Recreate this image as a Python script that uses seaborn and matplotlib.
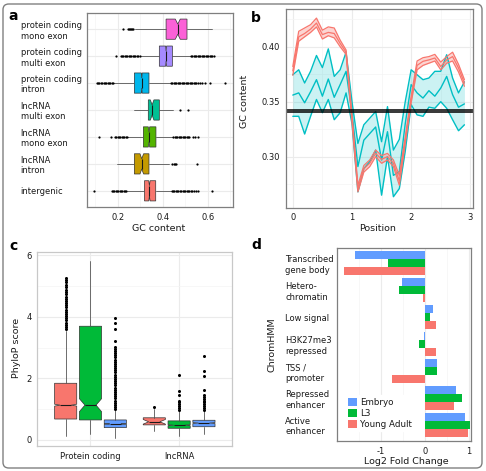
import numpy as np
import pandas as pd
import matplotlib
matplotlib.use("Agg")
import matplotlib.pyplot as plt
import seaborn as sns
from matplotlib.patches import FancyBboxPatch, Patch
from matplotlib.ticker import MultipleLocator, FixedLocator

# ---------------- panel a: GC content per region type ----------------
gc_labels = ["protein coding\nmono exon", "protein coding\nmulti exon", "protein coding\nintron",
             "lncRNA\nmulti exon", "lncRNA\nmono exon", "lncRNA\nintron", "intergenic"]
gc_colors = ["#FB61D7", "#A58AFF", "#00B6EB", "#00C094", "#53B400", "#C49A00", "#F8766D"]
gc_q1 = [0.415, 0.385, 0.274, 0.336, 0.314, 0.274, 0.319]
gc_med = [0.467, 0.415, 0.307, 0.353, 0.339, 0.307, 0.341]
gc_q3 = [0.508, 0.443, 0.339, 0.385, 0.370, 0.339, 0.369]
gc_lo = [0.277, 0.304, 0.180, 0.274, 0.240, 0.196, 0.243]
gc_hi = [0.618, 0.525, 0.436, 0.445, 0.447, 0.430, 0.440]
gc_notch = [0.011, 0.002, 0.002, 0.008, 0.003, 0.008, 0.003]
gc_fliers = [
    [0.222, 0.247, 0.251, 0.255, 0.259, 0.263, 0.267],
    [0.192, 0.213, 0.219, 0.225, 0.231, 0.237, 0.243, 0.249, 0.255, 0.261, 0.267, 0.273,
     0.279, 0.285, 0.291, 0.297, 0.525, 0.531, 0.537, 0.543, 0.549, 0.555, 0.561, 0.567,
     0.573, 0.579, 0.585, 0.591, 0.597, 0.603, 0.609, 0.615, 0.621, 0.628],
    [0.107, 0.113, 0.119, 0.125, 0.131, 0.137, 0.143, 0.149, 0.155, 0.161, 0.167, 0.173,
     0.178, 0.436, 0.442, 0.448, 0.454, 0.460, 0.466, 0.472, 0.478, 0.484, 0.490, 0.496,
     0.502, 0.508, 0.514, 0.520, 0.526, 0.532, 0.538, 0.544, 0.550, 0.556, 0.565, 0.575,
     0.590, 0.610, 0.675],
    [0.478, 0.512],
    [0.117, 0.170, 0.188, 0.194, 0.200, 0.206, 0.212, 0.218, 0.224, 0.230, 0.236, 0.240,
     0.447, 0.453, 0.459, 0.465, 0.471, 0.477, 0.483, 0.489, 0.495, 0.501, 0.507, 0.513,
     0.519, 0.535, 0.545, 0.558],
    [0.443, 0.449, 0.455, 0.461, 0.551],
    [0.096, 0.173, 0.179, 0.185, 0.191, 0.197, 0.203, 0.209, 0.215, 0.221, 0.227, 0.233,
     0.239, 0.440, 0.446, 0.452, 0.458, 0.464, 0.470, 0.476, 0.482, 0.488, 0.494, 0.500,
     0.506, 0.512, 0.518, 0.524, 0.530, 0.540, 0.550, 0.559, 0.620],
]

# ---------------- panel b: GC content along position ----------------
positions = [0.0, 0.1, 0.2, 0.3, 0.4, 0.5, 0.6, 0.7, 0.8, 0.9,
             1.0, 1.1, 1.2, 1.3, 1.4, 1.5, 1.6, 1.7, 1.8, 1.9,
             2.0, 2.1, 2.2, 2.3, 2.4, 2.5, 2.6, 2.7, 2.8, 2.9]
red_mid = [0.378, 0.409, 0.412, 0.416, 0.4215, 0.411, 0.413, 0.412, 0.403, 0.395,
           0.335, 0.271, 0.289, 0.294, 0.303, 0.2976, 0.300, 0.294, 0.278, 0.315,
           0.352, 0.383, 0.3867, 0.388, 0.3897, 0.382, 0.388, 0.391, 0.3806, 0.367]
red_up = [0.382, 0.414, 0.417, 0.420, 0.426, 0.415, 0.418, 0.417, 0.406, 0.397,
          0.338, 0.274, 0.292, 0.297, 0.306, 0.301, 0.303, 0.297, 0.283, 0.318,
          0.355, 0.387, 0.390, 0.391, 0.393, 0.386, 0.391, 0.395, 0.384, 0.370]
red_low = [0.374, 0.405, 0.409, 0.413, 0.418, 0.407, 0.410, 0.408, 0.400, 0.393,
           0.332, 0.268, 0.286, 0.291, 0.300, 0.294, 0.297, 0.291, 0.274, 0.312,
           0.349, 0.379, 0.383, 0.385, 0.387, 0.379, 0.385, 0.387, 0.377, 0.364]
teal_up = [0.3745, 0.379, 0.367, 0.3776, 0.392, 0.381, 0.398, 0.373, 0.379, 0.395,
           0.350, 0.312, 0.329, 0.335, 0.341, 0.3136, 0.3455, 0.306, 0.3158, 0.350,
           0.379, 0.3745, 0.370, 0.3715, 0.3776, 0.3776, 0.3927, 0.3715, 0.358, 0.368]
teal_mid = [0.356, 0.358, 0.349, 0.359, 0.370, 0.355, 0.3706, 0.354, 0.3655, 0.3776,
            0.340, 0.291, 0.315, 0.321, 0.327, 0.297, 0.3227, 0.283, 0.2864, 0.330,
            0.3655, 0.358, 0.3533, 0.360, 0.355, 0.3624, 0.373, 0.3564, 0.345, 0.348]
teal_low = [0.3367, 0.3367, 0.3206, 0.3367, 0.352, 0.340, 0.352, 0.3336, 0.340, 0.358,
            0.330, 0.268, 0.289, 0.2955, 0.306, 0.265, 0.300, 0.2636, 0.271, 0.305,
            0.3473, 0.338, 0.3367, 0.345, 0.344, 0.350, 0.344, 0.3336, 0.3236, 0.329]
gc_ref_lines = [0.3422, 0.3404]

# ---------------- panel c: PhyloP scores ----------------
phylo_groups = ["Protein coding", "lncRNA"]
phylo_colors = ["#F8766D", "#00BA38", "#619CFF"]
# order: PC red, PC green, PC blue, lncRNA red, lncRNA green, lncRNA blue
ph_q1 = [0.68, 0.65, 0.40, 0.49, 0.38, 0.43]
ph_med = [1.13, 1.13, 0.52, 0.59, 0.48, 0.55]
ph_q3 = [1.84, 3.69, 0.65, 0.72, 0.62, 0.64]
ph_lo = [0.13, 0.18, 0.08, 0.30, 0.14, 0.18]
ph_hi = [3.55, 5.79, 0.97, 1.00, 0.94, 0.95]
ph_notch = [0.03, 0.21, 0.01, 0.075, 0.015, 0.015]
ph_fliers = [
    [3.60, 3.67, 3.74, 3.81, 3.88, 3.95, 4.02, 4.09, 4.16, 4.23, 4.30, 4.37, 4.44, 4.51,
     4.58, 4.65, 4.72, 4.79, 4.86, 4.97, 5.04, 5.11, 5.18, 5.25],
    [],
    [1.00, 1.07, 1.14, 1.21, 1.28, 1.35, 1.42, 1.49, 1.56, 1.63, 1.70, 1.77, 1.84, 1.91,
     1.98, 2.05, 2.12, 2.19, 2.26, 2.33, 2.40, 2.47, 2.54, 2.61, 2.68, 2.75, 2.82, 2.89,
     2.96, 3.03, 3.20, 3.60, 3.78, 3.97],
    [1.08],
    [0.98, 1.04, 1.10, 1.16, 1.22, 1.28, 1.45, 1.58, 2.12],
    [0.98, 1.04, 1.10, 1.16, 1.22, 1.28, 1.34, 1.40, 1.46, 1.63, 2.07, 2.25, 2.72],
]

# ---------------- panel d: ChromHMM enrichment ----------------
states = ["Transcribed\ngene body", "Hetero-\nchromatin", "Low signal", "H3K27me3\nrepressed",
          "TSS /\npromoter", "Repressed\nenhancer", "Active\nenhancer"]
stages = ["Embryo", "L3", "Young Adult"]
stage_colors = ["#619CFF", "#00BA38", "#F8766D"]
embryo = [-1.60, -0.53, 0.18, -0.015, 0.275, 0.72, 0.92]
l3 = [-0.85, -0.60, 0.12, -0.14, 0.275, 0.85, 1.04]
young = [-1.84, -0.04, 0.245, 0.26, -0.75, 0.67, 0.98]

# ---------------- style ----------------
sns.set_style("white")
plt.rcParams["font.family"] = ["DejaVu Sans"]
plt.rcParams["axes.unicode_minus"] = False
TICK = 6
TITLE = 6.8
TXT = "#1a1a1a"
W, H = 486, 471

fig = plt.figure(figsize=(W / 100, H / 100), dpi=100)


def add_ax(left, top, right, bottom):
    return fig.add_axes([left / W, 1 - bottom / H, (right - left) / W, (bottom - top) / H])


def style(ax, edge="#7f7f7f"):
    ax.set_facecolor("white")
    for s in ax.spines.values():
        s.set_visible(True)
        s.set_color(edge)
        s.set_linewidth(0.9)
    ax.grid(which="major", color="#EBEBEB", lw=0.8)
    ax.grid(which="minor", color="#F4F4F4", lw=0.5)
    ax.set_axisbelow(True)
    ax.tick_params(which="major", length=2.5, width=0.6, color="#333333",
                   labelsize=TICK, labelcolor=TXT, pad=1.5)
    ax.tick_params(which="minor", length=0)


def make_stats(q1, med, q3, lo, hi, notch, fliers):
    out = []
    for i in range(len(med)):
        out.append(dict(q1=q1[i], med=med[i], q3=q3[i], whislo=lo[i], whishi=hi[i],
                        cilo=med[i] - notch[i], cihi=med[i] + notch[i], fliers=fliers[i]))
    return out


box_kw = dict(patch_artist=True, shownotches=True, showcaps=False, manage_ticks=False,
              boxprops=dict(lw=0.5, edgecolor="#333333"),
              medianprops=dict(color="#1a1a1a", lw=0.8),
              whiskerprops=dict(color="#555555", lw=0.6))

# ---- a ----
ax = add_ax(87, 13, 233, 207)
style(ax)
ypos = np.arange(len(gc_labels), 0, -1)
bp = ax.bxp(make_stats(gc_q1, gc_med, gc_q3, gc_lo, gc_hi, gc_notch, gc_fliers),
            positions=ypos, widths=0.75, orientation="horizontal",
            flierprops=dict(marker="o", ms=1.6, mfc="black", mec="none"), **box_kw)
for patch, c in zip(bp["boxes"], gc_colors):
    patch.set_facecolor(c)
ax.set_yticks(ypos)
ax.set_yticklabels(gc_labels)
for lab in ax.get_yticklabels():
    lab.set_ha("left")
ax.tick_params(axis="y", pad=45.2)
ax.set_ylim(0.4, len(gc_labels) + 0.6)
ax.set_xlim(0.0636, 0.7124)
ax.xaxis.set_major_locator(FixedLocator([0.2, 0.4, 0.6]))
ax.xaxis.set_minor_locator(FixedLocator([0.1, 0.3, 0.5, 0.7]))
ax.set_xticklabels(["0.2", "0.4", "0.6"])
ax.set_xlabel("GC content", fontsize=TITLE, color=TXT)
ax.xaxis.label.set_va("center")
ax.xaxis.set_label_coords(0.493, -0.113)

# ---- b ----
ax = add_ax(285.7, 9.3, 473.3, 207.7)
style(ax)
teal, red = "#00BFC4", "#F8766D"
ax.fill_between(positions, teal_low, teal_up, color=teal, alpha=0.2, lw=0)
for ys in (teal_up, teal_mid, teal_low):
    sns.lineplot(x=positions, y=ys, color=teal, lw=1.0, ax=ax)
ax.fill_between(positions, red_low, red_up, color=red, alpha=0.3, lw=0)
for ys in (red_up, red_mid, red_low):
    sns.lineplot(x=positions, y=ys, color=red, lw=0.9, ax=ax)
for yv in gc_ref_lines:
    ax.axhline(yv, color="black", lw=1.1)
ax.set_xlim(-0.12, 3.05)
ax.set_ylim(0.2536, 0.434)
ax.xaxis.set_major_locator(MultipleLocator(1))
ax.xaxis.set_minor_locator(MultipleLocator(0.5))
ax.yaxis.set_major_locator(FixedLocator([0.30, 0.35, 0.40]))
ax.yaxis.set_minor_locator(FixedLocator([0.275, 0.325, 0.375, 0.425]))
ax.set_yticklabels(["0.30", "0.35", "0.40"])
ax.set_xlabel("Position", fontsize=TITLE, color=TXT)
ax.set_ylabel("GC content", fontsize=TITLE, color=TXT)
ax.xaxis.label.set_va("center")
ax.yaxis.label.set_va("center")
ax.xaxis.set_label_coords(0.492, -0.107)
ax.yaxis.set_label_coords(-0.217, 0.534)

# ---- c ----
ax = add_ax(37.3, 252.3, 232.3, 446)
style(ax, edge="#c8c8c8")
offsets = [-0.28, 0.0, 0.28]
cpos = [g + 1 + o for g in range(len(phylo_groups)) for o in offsets]
bp = ax.bxp(make_stats(ph_q1, ph_med, ph_q3, ph_lo, ph_hi, ph_notch, ph_fliers),
            positions=cpos, widths=0.25,
            flierprops=dict(marker="o", ms=2.2, mfc="black", mec="none"), **box_kw)
for patch, c in zip(bp["boxes"], phylo_colors * len(phylo_groups)):
    patch.set_facecolor(c)
ax.set_xticks([1, 2])
ax.set_xticklabels(phylo_groups)
ax.set_xlim(0.4, 2.6)
ax.set_ylim(-0.195, 6.088)
ax.yaxis.set_major_locator(MultipleLocator(2))
ax.yaxis.set_minor_locator(FixedLocator([1, 3, 5]))
ax.set_ylabel("PhyloP score", fontsize=TITLE, color=TXT)
ax.yaxis.label.set_va("center")
ax.yaxis.set_label_coords(-0.106, 0.506)

# ---- d ----
ax = add_ax(336.7, 247.7, 471, 441)
style(ax)
df = pd.DataFrame({
    "state": states * 3,
    "stage": [s for s in stages for _ in states],
    "lfc": embryo + l3 + young,
})
sns.barplot(data=df, x="lfc", y="state", hue="stage", hue_order=stages, order=states,
            palette=stage_colors, orient="h", width=0.9, saturation=1, errorbar=None,
            linewidth=0, ax=ax)
ax.set_yticks(range(len(states)))
ax.set_yticklabels(states)
for lab in ax.get_yticklabels():
    lab.set_ha("left")
ax.tick_params(axis="y", pad=34.7)
ax.set_ylim(len(states) - 1 + 0.59, -0.58)
ax.set_xlim(-2.014, 1.053)
ax.xaxis.set_major_locator(FixedLocator([-1, 0, 1]))
ax.xaxis.set_minor_locator(FixedLocator([-1.5, -0.5, 0.5]))
ax.set_xticklabels(["-1", "0", "1"])
ax.set_xlabel("Log2 Fold Change", fontsize=TITLE, color=TXT)
ax.set_ylabel("ChromHMM", fontsize=TITLE, color=TXT)
ax.xaxis.label.set_va("center")
ax.yaxis.label.set_va("center")
ax.xaxis.set_label_coords(0.521, -0.107)
ax.yaxis.set_label_coords(-0.484, 0.497)
handles = [Patch(facecolor=c, edgecolor="none", label=s) for s, c in zip(stages, stage_colors)]
leg = ax.legend(handles=handles, loc="lower left", bbox_to_anchor=(0.063, 0.05),
                borderaxespad=0, borderpad=0.3, fontsize=TICK + 0.3, handlelength=1.0,
                handleheight=1.1, handletextpad=0.45, labelspacing=0.18,
                frameon=True, fancybox=False)
leg.get_frame().set_facecolor("white")
leg.get_frame().set_edgecolor("white")
leg.get_frame().set_alpha(1)
for t in leg.get_texts():
    t.set_color(TXT)

# panel letters and outer frame
for letter, (px, py) in zip("abcd", [(13.5, 16.5), (256, 17.5), (13.5, 246), (256.5, 245)]):
    fig.text(px / W, 1 - py / H, letter, fontsize=10, fontweight="bold",
             ha="center", va="center", color="black")
fig.add_artist(FancyBboxPatch((3 / W, 3 / H), (W - 7) / W, (H - 7) / H,
                              boxstyle="round,pad=0,rounding_size=0.012",
                              transform=fig.transFigure, fill=False,
                              edgecolor="#808080", lw=1.0))

fig.savefig("out.png", dpi=100)
